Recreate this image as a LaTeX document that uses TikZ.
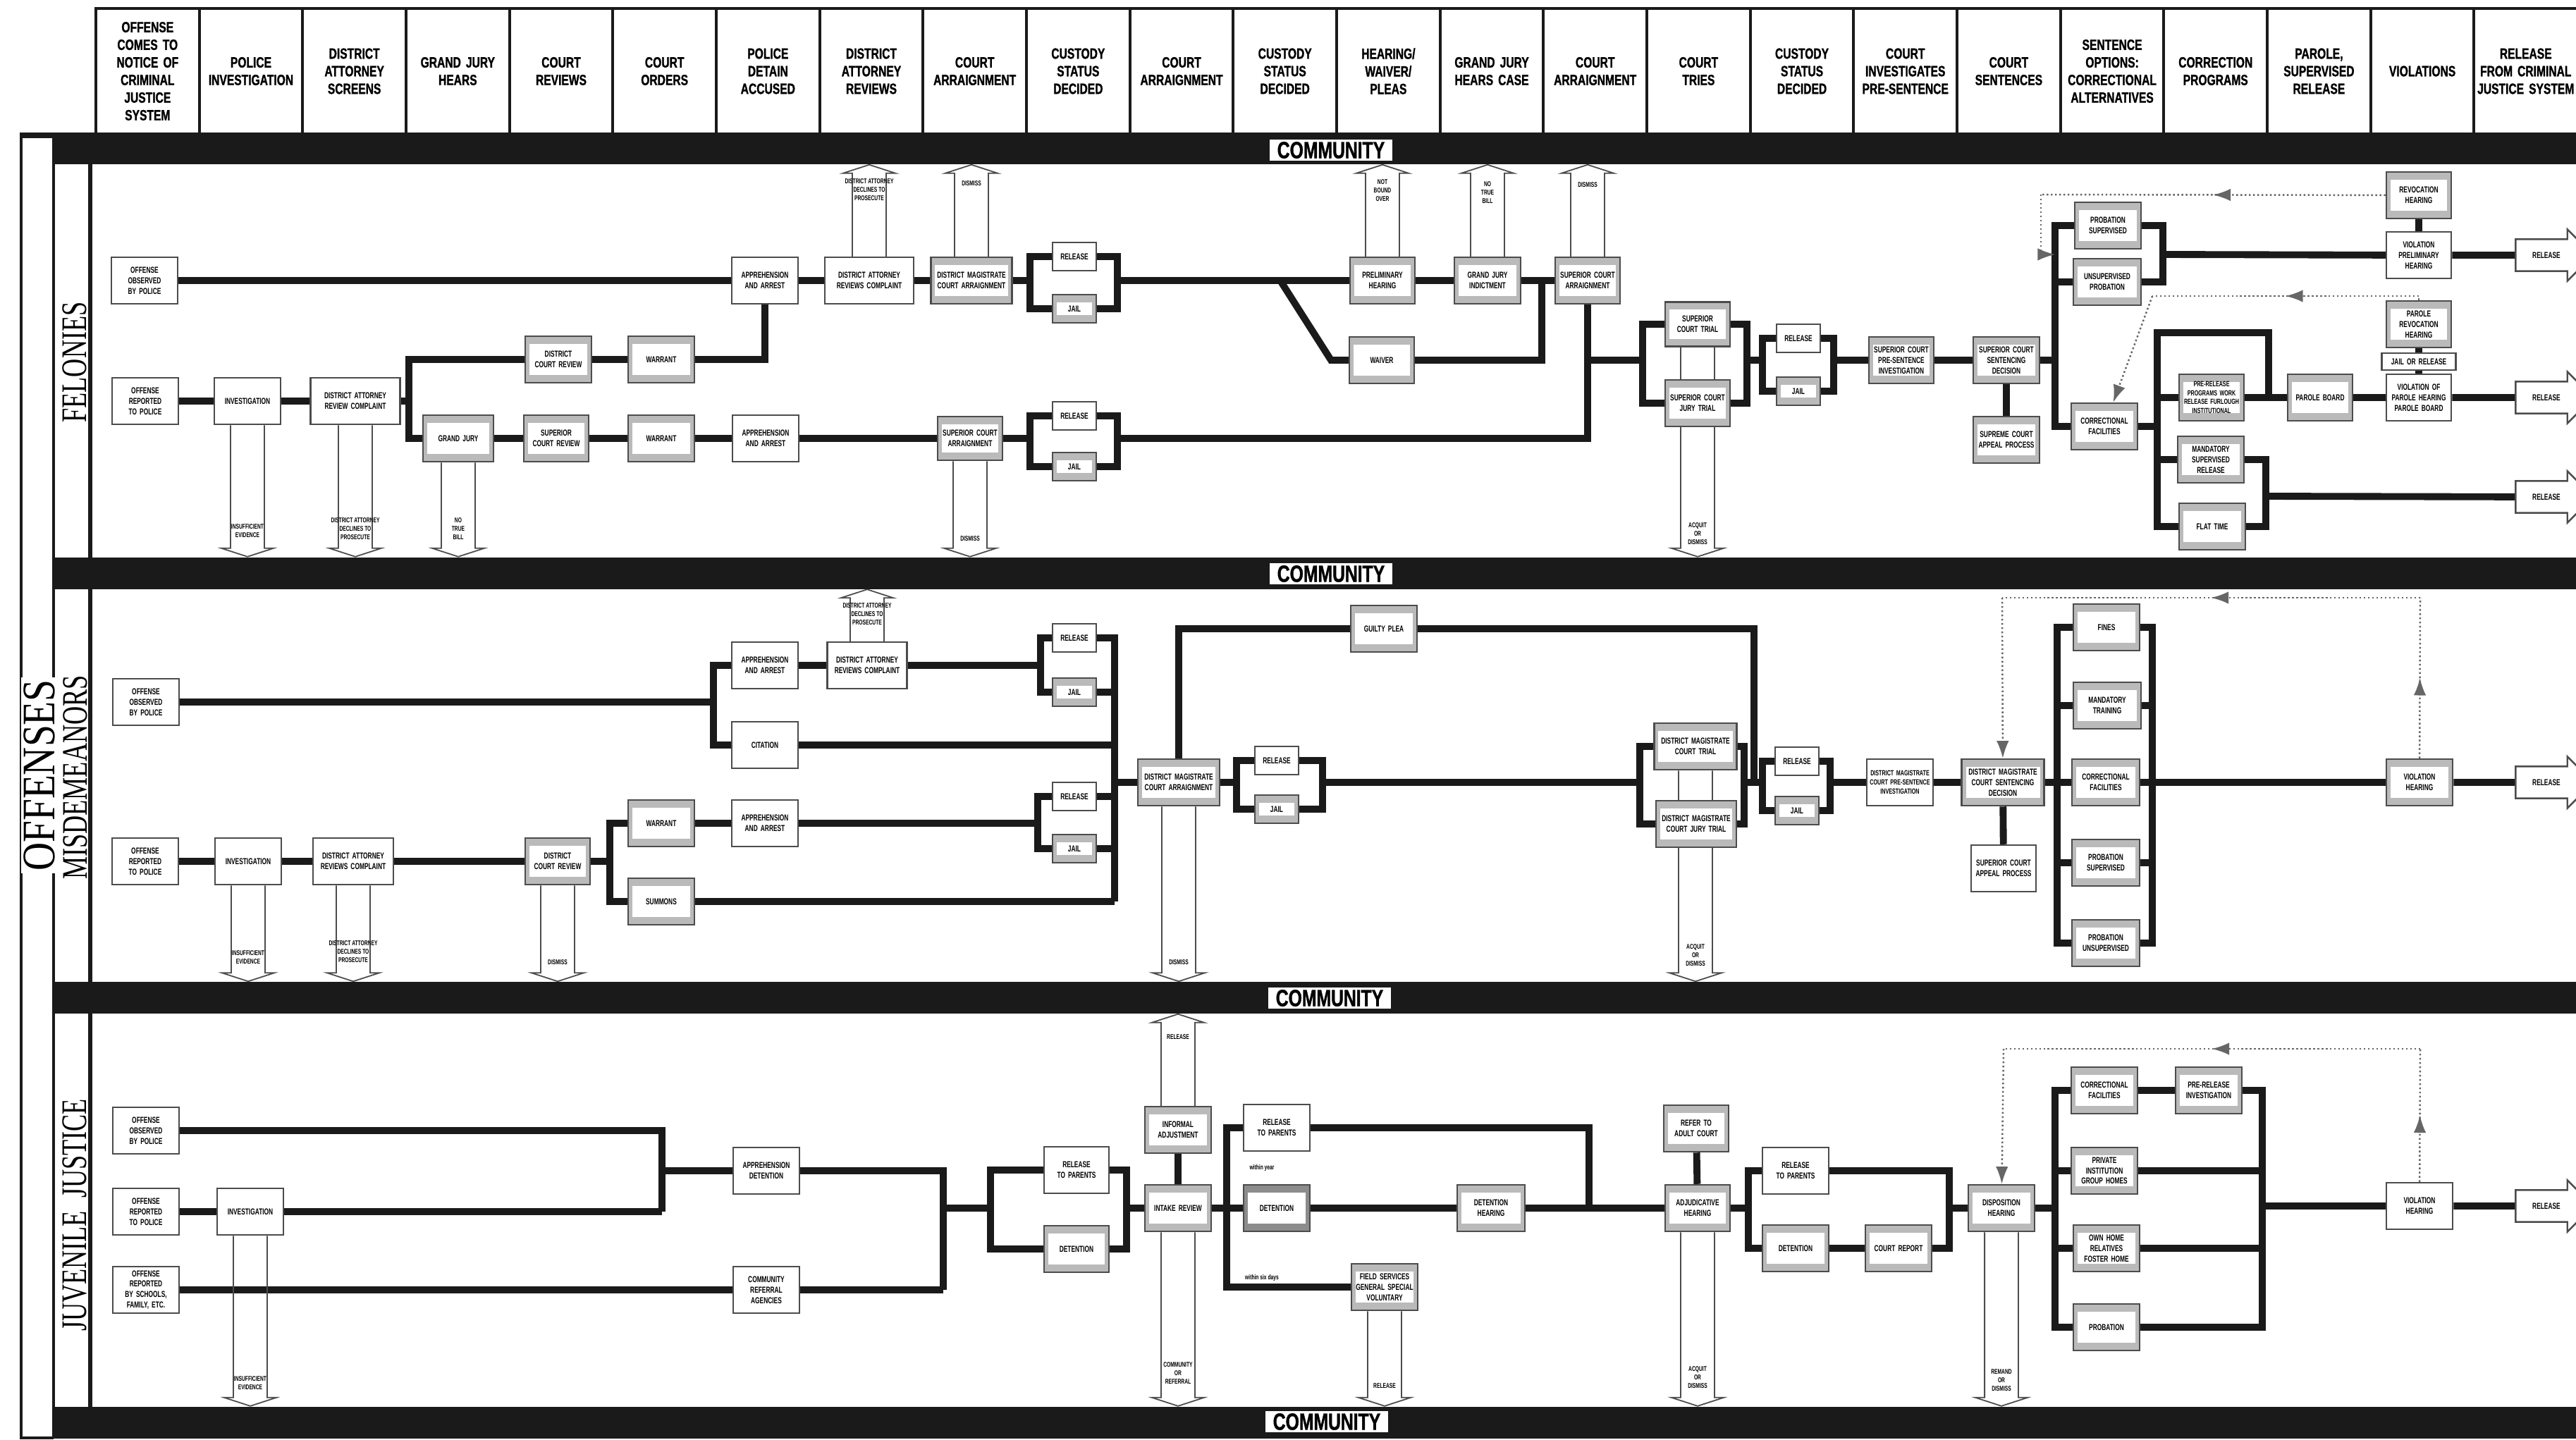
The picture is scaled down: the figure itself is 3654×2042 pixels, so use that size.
\documentclass[tikz,border=0pt]{standalone}
\usepackage{fontspec}
\newfontfamily\hdrfont{Liberation Sans}[UprightFont=* Bold, FakeStretch=0.74, FakeBold=1.2]
\newfontfamily\boxfont{Liberation Sans}[UprightFont=* Bold, FakeStretch=0.68]
\newfontfamily\secfont{Liberation Serif}[FakeStretch=0.71]
\newfontfamily\offfont{Liberation Serif}[FakeStretch=0.84]
\usepackage{tikz}
\usetikzlibrary{positioning, calc, shapes.arrows, arrows.meta, decorations.markings}
\definecolor{boxgray}{HTML}{BABABA}
\definecolor{ink}{HTML}{1A1A1A}
\pgfdeclarelayer{bg}
\pgfdeclarelayer{lines}
\pgfsetlayers{bg,lines,main}
\hyphenpenalty=10000
\exhyphenpenalty=10000

\begin{document}
\begin{tikzpicture}[x=0.01cm, y=-0.01cm,
  hdr/.style={draw=ink, line width=1.1pt, anchor=north west,
    minimum width=1.4667cm, minimum height=1.78cm, text width=1.38cm,
    align=center, inner sep=0pt, font=\hdrfont\fontsize{6}{7.1}\selectfont},
  box/.style={draw=black!70, line width=0.7pt, fill=white,
    minimum width=0.94cm, minimum height=0.66cm, text width=0.86cm,
    align=center, inner sep=0pt, font=\boxfont\fontsize{3.5}{4.2}\selectfont},
  shade/.style={box, fill=boxgray,
    path picture={\fill[white] ([xshift=0.06cm,yshift=-0.11cm]path picture bounding box.north west)
      rectangle ([xshift=-0.06cm,yshift=0.11cm]path picture bounding box.south east);}},
  rj/.style={minimum width=0.62cm, minimum height=0.40cm, text width=0.56cm},
  small/.style={font=\boxfont\fontsize{3}{3.6}\selectfont},
  flow/.style={draw=ink, line width=2.8pt},
  exitline/.style={draw=black!70, line width=0.5pt},
  exitup/.style={exitline, to path={let \p1=(\tikztostart), \p2=(\tikztotarget) in
    (\x1-6.8pt,\y1) -- (\x1-6.8pt,\y2-3.4pt) -- (\x1-10.5pt,\y2-3.4pt) -- (\x1,\y2)
    -- (\x1+10.5pt,\y2-3.4pt) -- (\x1+6.8pt,\y2-3.4pt) -- (\x1+6.8pt,\y1)}},
  exitdown/.style={exitline, to path={let \p1=(\tikztostart), \p2=(\tikztotarget) in
    (\x1-6.8pt,\y1) -- (\x1-6.8pt,\y2+3.4pt) -- (\x1-10.5pt,\y2+3.4pt) -- (\x1,\y2)
    -- (\x1+10.5pt,\y2+3.4pt) -- (\x1+6.8pt,\y2+3.4pt) -- (\x1+6.8pt,\y1)}},
  exitlbl/.style={align=center, inner sep=0pt, font=\boxfont\fontsize{2.8}{3.4}\selectfont},
  band/.style={fill=ink, minimum width=35.78cm, minimum height=0.45cm, inner sep=0pt},
  comm/.style={fill=white, inner xsep=3pt, inner ysep=1pt, font=\hdrfont\fontsize{9.5}{9.5}\selectfont},
  relarr/.style={single arrow, draw=black!70, line width=0.7pt, fill=white, anchor=west,
    minimum height=1.1cm, single arrow head extend=0.14cm, inner xsep=0.1cm, inner ysep=0.17cm,
    font=\boxfont\fontsize{3.5}{4.2}\selectfont},
  dots/.style={densely dotted, line width=0.7pt, draw=black!60},
  midarrow/.style={postaction={decorate}, decoration={markings,
    mark=at position 0.5 with {\arrow{Latex[length=7pt,width=5pt]}}}},
  seclbl/.style={rotate=90, inner sep=0pt, font=\secfont\fontsize{14.5}{14.5}\selectfont}]

\useasboundingbox (0,0) rectangle (3654,2042);
\begin{pgfonlayer}{bg}
  \fill[white] (0,0) rectangle (3654,2042);
\end{pgfonlayer}

% column headings
\foreach \t [count=\i from 0] in {
  {OFFENSE\\COMES TO\\NOTICE OF\\CRIMINAL\\JUSTICE\\SYSTEM}, {POLICE\\INVESTIGATION},
  {DISTRICT\\ATTORNEY\\SCREENS}, {GRAND JURY\\HEARS}, {COURT\\REVIEWS}, {COURT\\ORDERS},
  {POLICE\\DETAIN\\ACCUSED}, {DISTRICT\\ATTORNEY\\REVIEWS}, {COURT\\ARRAIGNMENT},
  {CUSTODY\\STATUS\\DECIDED}, {COURT\\ARRAIGNMENT}, {CUSTODY\\STATUS\\DECIDED},
  {HEARING/\\WAIVER/\\PLEAS}, {GRAND JURY\\HEARS CASE}, {COURT\\ARRAIGNMENT},
  {COURT\\TRIES}, {CUSTODY\\STATUS\\DECIDED}, {COURT\\INVESTIGATES\\PRE-SENTENCE},
  {COURT\\SENTENCES}, {SENTENCE\\OPTIONS:\\CORRECTIONAL\\ALTERNATIVES},
  {CORRECTION\\PROGRAMS}, {PAROLE,\\SUPERVISED\\RELEASE}, {VIOLATIONS},
  {RELEASE\\FROM CRIMINAL\\JUSTICE SYSTEM}}
  \node[hdr] (h\i) at ({134+146.67*\i},10) {\t};

% frame and community bands
\draw[ink, line width=1pt] (30,188) -- (30,2040) -- (76,2040);
\draw[ink, line width=2.5pt] (30,192) -- (76,192);
\draw[ink, line width=1pt] (76,188) -- (76,2040);
\draw[ink, line width=1.6pt] (128,233) -- (128,1996);
\node[band] (band1) at (1865,210.5) {};
\node[band] (band2) at (1865,813) {};
\node[band] (band3) at (1865,1415.5) {};
\node[band] (band4) at (1865,2018) {};
\node[comm] (c1) at (1888,213) {COMMUNITY};
\node[comm] (c2) at (1888,814) {COMMUNITY};
\node[comm] (c3) at (1886,1416) {COMMUNITY};
\node[comm] (c4) at (1882,2017) {COMMUNITY};

\node[rotate=90, inner sep=1pt, fill=white, font=\offfont\fontsize{18.8}{18.8}\selectfont] (loff) at (56,1100) {OFFENSES};
\node[seclbl] (lfel) at (106,514) {FELONIES};
\node[seclbl] (lmis) at (107,1103) {MISDEMEANORS};
\node[seclbl] (ljuv) at (106,1724) {JUVENILE\ \ JUSTICE};

% ---------------- felonies
\node[box] (fobs) at (205,398) {OFFENSE OBSERVED BY POLICE};
\node[box] (fapp1) at (1085,398) {APPREHENSION AND ARREST};
\node[box, minimum width=1.26cm, text width=1.16cm] (fdarc1) at (1233,398) {DISTRICT ATTORNEY REVIEWS COMPLAINT};
\node[shade, minimum width=1.15cm, text width=1.05cm] (fdma) at (1378,398) {DISTRICT MAGISTRATE COURT ARRAIGNMENT};
\node[box, rj] (frel1) at (1524,364) {RELEASE};
\node[shade, rj] (fjail1) at (1524,438) {JAIL};
\node[shade, minimum width=0.92cm] (fprel) at (1961,398) {PRELIMINARY HEARING};
\node[shade, minimum width=0.92cm] (fwaiv) at (1960,511) {WAIVER};
\node[shade] (fgji) at (2110,398) {GRAND JURY INDICTMENT};
\node[shade, minimum width=0.92cm] (fsca1) at (2252,398) {SUPERIOR COURT ARRAIGNMENT};
\node[shade, minimum width=0.92cm, minimum height=0.63cm] (ftri) at (2408,460) {SUPERIOR COURT TRIAL};
\node[shade, minimum width=0.92cm] (fjtri) at (2408,572) {SUPERIOR COURT JURY TRIAL};
\node[box, rj] (frel3) at (2551,480) {RELEASE};
\node[shade, rj] (fjail3) at (2551,555) {JAIL};
\node[shade, minimum width=0.92cm] (fpsi) at (2697,511) {SUPERIOR COURT PRE-SENTENCE INVESTIGATION};
\node[shade] (fsent) at (2846,511) {SUPERIOR COURT SENTENCING DECISION};
\node[shade] (fapl) at (2846,624) {SUPREME COURT APPEAL PROCESS};
\node[shade] (fprob) at (2990,320) {PROBATION SUPERVISED};
\node[shade, minimum width=0.96cm] (funpr) at (2989,400) {UNSUPERVISED PROBATION};
\node[shade] (fcorr) at (2985,605) {CORRECTIONAL FACILITIES};
\node[shade, minimum width=0.92cm] (frevh) at (3431,277) {REVOCATION HEARING};
\node[box, minimum width=0.92cm] (fvph) at (3431,362) {VIOLATION PRELIMINARY HEARING};
\node[shade, minimum width=0.92cm] (fprh) at (3431,460) {PAROLE REVOCATION HEARING};
\node[box, minimum width=1.05cm, minimum height=0.24cm, text width=1cm] (fjor) at (3431,513) {JAIL OR RELEASE};
\node[box, minimum width=0.92cm] (fvoph) at (3431,564) {VIOLATION OF PAROLE HEARING PAROLE BOARD};
\node[shade, small, minimum width=0.92cm] (fprp) at (3137,564) {PRE-RELEASE PROGRAMS WORK RELEASE FURLOUGH INSTITUTIONAL};
\node[shade, minimum width=0.92cm] (fpb) at (3291,564) {PAROLE BOARD};
\node[shade] (fmsr) at (3136,652) {MANDATORY SUPERVISED RELEASE};
\node[shade] (fflat) at (3138,747) {FLAT TIME};
\node[relarr] (frelA) at (3567,362) {RELEASE};
\node[relarr] (frelB) at (3567,564) {RELEASE};
\node[relarr] (frelC) at (3567,705) {RELEASE};
\node[box] (frep) at (206,569) {OFFENSE REPORTED TO POLICE};
\node[box] (finv) at (351,569) {INVESTIGATION};
\node[box, minimum width=1.27cm, text width=1.17cm] (fdarc2) at (504,569) {DISTRICT ATTORNEY REVIEW COMPLAINT};
\node[shade] (fdcr) at (792,510) {DISTRICT COURT REVIEW};
\node[shade] (fwar1) at (938,510) {WARRANT};
\node[shade, minimum width=1cm] (fgj) at (650,622) {GRAND JURY};
\node[shade, minimum width=0.92cm] (fscr) at (789,622) {SUPERIOR COURT REVIEW};
\node[shade] (fwar2) at (938,622) {WARRANT};
\node[box] (fapp2) at (1086,622) {APPREHENSION AND ARREST};
\node[shade, minimum width=0.92cm, minimum height=0.62cm] (fsca2) at (1376,622) {SUPERIOR COURT ARRAIGNMENT};
\node[box, rj] (frel2) at (1524,590) {RELEASE};
\node[shade, rj] (fjail2) at (1524,662) {JAIL};

\coordinate (fb1l) at (1461,398);  \coordinate (fb1r) at (1585,398);
\coordinate (fkd1) at (1816,398);  \coordinate (fkd2) at (1888,511);
\coordinate (fwj) at (2187,398);
\coordinate (fb2l) at (1461,622);  \coordinate (fb2r) at (1585,622);
\coordinate (ftl) at (2330,511);   \coordinate (ftr) at (2478,511);
\coordinate (fb3l) at (2500,511);  \coordinate (fb3r) at (2601,511);
\coordinate (fsv) at (2915,511);   \coordinate (fpr) at (3068,361);
\coordinate (fct) at (3060,472);   \coordinate (fctr) at (3218,472);
\coordinate (fpj) at (3218,564);   \coordinate (fmr) at (3214,704);
\coordinate (fv) at (580,569);
\coordinate (fd1) at (2895,276);   \coordinate (fd2) at (2895,361);
\coordinate (fd3) at (3431,420);   \coordinate (fd4) at (3053,420);

\node[exitlbl] (xf1) at (1233,269) {DISTRICT ATTORNEY\\DECLINES TO\\PROSECUTE};
\node[exitlbl] (xf2) at (1378,260) {DISMISS};
\node[exitlbl] (xf3) at (1961,270) {NOT\\BOUND\\OVER};
\node[exitlbl] (xf4) at (2110,273) {NO\\TRUE\\BILL};
\node[exitlbl] (xf5) at (2252,262) {DISMISS};
\node[exitlbl] (xf6) at (351,753) {INSUFFICIENT\\EVIDENCE};
\node[exitlbl] (xf7) at (504,750) {DISTRICT ATTORNEY\\DECLINES TO\\PROSECUTE};
\node[exitlbl] (xf8) at (650,750) {NO\\TRUE\\BILL};
\node[exitlbl] (xf9) at (1376,764) {DISMISS};
\node[exitlbl] (xf10) at (2408,757) {ACQUIT\\OR\\DISMISS};

% ---------------- misdemeanors
\node[box] (mobs) at (207,996) {OFFENSE OBSERVED BY POLICE};
\node[box] (mapp1) at (1085,944) {APPREHENSION AND ARREST};
\node[box, minimum width=1.13cm, text width=1.04cm] (mdarc1) at (1230,944) {DISTRICT ATTORNEY REVIEWS COMPLAINT};
\node[box] (mcit) at (1085,1057) {CITATION};
\node[box, rj] (mrel1) at (1524,905) {RELEASE};
\node[shade, rj] (mjail1) at (1524,982) {JAIL};
\node[box, rj] (mrel2) at (1524,1130) {RELEASE};
\node[shade, rj] (mjail2) at (1524,1204) {JAIL};
\node[shade, minimum width=1.16cm, text width=1.06cm] (mdma) at (1672,1110) {DISTRICT MAGISTRATE COURT ARRAIGNMENT};
\node[shade] (mgp) at (1963,892) {GUILTY PLEA};
\node[box, rj] (mrel3) at (1811,1079) {RELEASE};
\node[shade, rj] (mjail3) at (1811,1148) {JAIL};
\node[shade, minimum width=1.17cm, text width=1.06cm] (mtri) at (2405,1059) {DISTRICT MAGISTRATE COURT TRIAL};
\node[shade, minimum width=1.14cm, text width=1.04cm] (mjtri) at (2406,1169) {DISTRICT MAGISTRATE COURT JURY TRIAL};
\node[box, rj] (mrel4) at (2549,1080) {RELEASE};
\node[shade, rj] (mjail4) at (2549,1150) {JAIL};
\node[box, small] (mpsi) at (2695,1110) {DISTRICT MAGISTRATE COURT PRE-SENTENCE INVESTIGATION};
\node[shade, minimum width=1.17cm, text width=1.06cm] (msent) at (2841,1110) {DISTRICT MAGISTRATE COURT SENTENCING DECISION};
\node[box, minimum width=0.92cm] (mapl) at (2842,1232) {SUPERIOR COURT APPEAL PROCESS};
\node[shade] (mfine) at (2988,890) {FINES};
\node[shade, minimum width=0.96cm] (mmtr) at (2989,1001) {MANDATORY TRAINING};
\node[shade, minimum width=0.96cm] (mcorr) at (2987,1110) {CORRECTIONAL FACILITIES};
\node[shade, minimum width=0.96cm] (mprob) at (2987,1224) {PROBATION SUPERVISED};
\node[shade, minimum width=0.96cm] (munpr) at (2987,1338) {PROBATION UNSUPERVISED};
\node[shade] (mvh) at (3432,1110) {VIOLATION HEARING};
\node[relarr] (mrelA) at (3567,1110) {RELEASE};
\node[box] (mrep) at (206,1222) {OFFENSE REPORTED TO POLICE};
\node[box] (minv) at (352,1222) {INVESTIGATION};
\node[box, minimum width=1.14cm, text width=1.05cm] (mdarc2) at (501,1222) {DISTRICT ATTORNEY REVIEWS COMPLAINT};
\node[shade, minimum width=0.92cm] (mdcr) at (791,1222) {DISTRICT COURT REVIEW};
\node[shade] (mwar) at (938,1168) {WARRANT};
\node[box] (mapp2) at (1085,1168) {APPREHENSION AND ARREST};
\node[shade] (msum) at (938,1279) {SUMMONS};

\coordinate (mb0) at (1012,996);   \coordinate (mb1l) at (1476,944);
\coordinate (mbig) at (1581,1279); \coordinate (mb2l) at (1472,1168);
\coordinate (mb5) at (865,1222);   \coordinate (mgj) at (2488,1110);
\coordinate (mb3l) at (1754,1110); \coordinate (mb3r) at (1876,1110);
\coordinate (mtl) at (2326,1110);  \coordinate (mtr) at (2474,1110);
\coordinate (mb4l) at (2500,1110); \coordinate (mb4r) at (2596,1110);
\coordinate (msv) at (2918,1110);  \coordinate (mrv) at (3053,1110);
\coordinate (md1) at (2840,848);   \coordinate (md2) at (3433,848);

\node[exitlbl] (xm1) at (1230,871) {DISTRICT ATTORNEY\\DECLINES TO\\PROSECUTE};
\node[exitlbl] (xm2) at (352,1358) {INSUFFICIENT\\EVIDENCE};
\node[exitlbl] (xm3) at (501,1350) {DISTRICT ATTORNEY\\DECLINES TO\\PROSECUTE};
\node[exitlbl] (xm4) at (791,1365) {DISMISS};
\node[exitlbl] (xm5) at (1672,1365) {DISMISS};
\node[exitlbl] (xm6) at (2405,1355) {ACQUIT\\OR\\DISMISS};

% ---------------- juvenile justice
\node[box] (jobs) at (207,1604) {OFFENSE OBSERVED BY POLICE};
\node[box] (jrep) at (207,1719) {OFFENSE REPORTED TO POLICE};
\node[box] (jinv) at (355,1719) {INVESTIGATION};
\node[box] (jsch) at (207,1830) {OFFENSE REPORTED BY SCHOOLS, FAMILY, ETC.};
\node[box] (japp) at (1087,1661) {APPREHENSION DETENTION};
\node[box] (jcom) at (1087,1830) {COMMUNITY REFERRAL AGENCIES};
\node[box, minimum width=0.92cm] (jrp1) at (1527,1660) {RELEASE TO PARENTS};
\node[shade, minimum width=0.92cm] (jdet1) at (1527,1772) {DETENTION};
\node[shade] (jint) at (1671,1714) {INTAKE REVIEW};
\node[shade] (jinf) at (1671,1603) {INFORMAL ADJUSTMENT};
\node[box] (jrp2) at (1811,1600) {RELEASE TO PARENTS};
\node[shade, fill=black!45] (jdet2) at (1811,1714) {DETENTION};
\node[shade] (jfld) at (1964,1826) {FIELD SERVICES GENERAL SPECIAL VOLUNTARY};
\node[shade, minimum width=0.96cm] (jdh) at (2115,1714) {DETENTION HEARING};
\node[shade, minimum width=0.92cm] (jadj) at (2408,1714) {ADJUDICATIVE HEARING};
\node[shade, minimum width=0.92cm] (jref) at (2406,1601) {REFER TO ADULT COURT};
\node[box] (jrp3) at (2547,1661) {RELEASE TO PARENTS};
\node[shade] (jdet3) at (2547,1771) {DETENTION};
\node[shade] (jcrt) at (2693,1771) {COURT REPORT};
\node[shade] (jdisp) at (2839,1714) {DISPOSITION HEARING};
\node[shade] (jcorr) at (2985,1547) {CORRECTIONAL FACILITIES};
\node[shade] (jpri) at (3133,1547) {PRE-RELEASE INVESTIGATION};
\node[shade] (jpin) at (2985,1661) {PRIVATE INSTITUTION GROUP HOMES};
\node[shade] (jown) at (2988,1771) {OWN HOME RELATIVES FOSTER HOME};
\node[shade] (jprob) at (2988,1883) {PROBATION};
\node[box] (jvh) at (3432,1711) {VIOLATION HEARING};
\node[relarr] (jrelA) at (3567,1711) {RELEASE};
\node[exitlbl] (jw1) at (1790,1657) {within year};
\node[exitlbl] (jw2) at (1790,1813) {within six days};

\coordinate (jm) at (939,1719);    \coordinate (jv) at (1338,1830);
\coordinate (jmid) at (1338,1714); \coordinate (jb1l) at (1405,1714);
\coordinate (jb1r) at (1598,1714); \coordinate (jv3) at (1740,1714);
\coordinate (jv3b) at (1740,1826); \coordinate (jj) at (2254,1714);
\coordinate (jb2l) at (2480,1714); \coordinate (jb2r) at (2765,1714);
\coordinate (jv4) at (2915,1714);  \coordinate (jr) at (3209,1711);
\coordinate (jd1) at (2842,1488);  \coordinate (jd2) at (3433,1488);

\node[exitlbl] (xj1) at (355,1962) {INSUFFICIENT\\EVIDENCE};
\node[exitlbl] (xj2) at (1671,1471) {RELEASE};
\node[exitlbl] (xj3) at (1671,1948) {COMMUNITY\\OR\\REFERRAL};
\node[exitlbl] (xj4) at (1964,1966) {RELEASE};
\node[exitlbl] (xj5) at (2408,1954) {ACQUIT\\OR\\DISMISS};
\node[exitlbl] (xj6) at (2839,1958) {REMAND\\OR\\DISMISS};

\begin{pgfonlayer}{lines}
  % felonies, upper route
  \draw[flow] (fobs) -- (fapp1);
  \draw[flow] (fapp1) -- (fdarc1);
  \draw[flow] (fdarc1) -- (fdma);
  \draw[flow] (fdma) -- (fb1l);
  \draw[flow] (frel1) -| (fb1l) |- (fjail1);
  \draw[flow] (frel1) -| (fb1r) |- (fjail1);
  \draw[flow] (fb1r) -- (fprel);
  \draw[flow] (fkd1) -- (fkd2) -- (fwaiv);
  \draw[flow] (fprel) -- (fgji);
  \draw[flow] (fgji) -- (fsca1);
  \draw[flow] (fwaiv) -| (fwj);
  \draw[flow] (fb2r) -| (fsca1);
  \draw[flow] (fsca1 |- ftl) -- (ftl);
  \draw[flow] (ftri) -| (ftl) |- (fjtri);
  \draw[flow] (ftri) -| (ftr) |- (fjtri);
  \draw[flow] (ftr) -- (fb3l);
  \draw[flow] (frel3) -| (fb3l) |- (fjail3);
  \draw[flow] (frel3) -| (fb3r) |- (fjail3);
  \draw[flow] (fb3r) -- (fpsi);
  \draw[flow] (fpsi) -- (fsent);
  \draw[flow] (fsent) -- (fapl);
  \draw[flow] (fsent) -- (fsv);
  \draw[flow] (fprob) -| (fsv) |- (fcorr);
  \draw[flow] (funpr) -- (funpr -| fsv);
  \draw[flow] (fprob) -| (fpr) |- (funpr);
  \draw[flow] (fpr) -- (fvph);
  \draw[flow] (fvph) -- (frevh);
  \draw[flow] (fvph) -- (frelA);
  \draw[flow] (fcorr) -- (fcorr -| fct);
  \draw[flow] (fflat) -| (fct) -- (fctr) -- (fpj);
  \draw[flow] (fprp) -- (fprp -| fct);
  \draw[flow] (fmsr) -- (fmsr -| fct);
  \draw[flow] (fprp) -- (fpb);
  \draw[flow] (fpb) -- (fvoph);
  \draw[flow] (fvoph) -- (frelB);
  \draw[flow] (fprh) -- (fjor);
  \draw[flow] (fjor) -- (fvoph);
  \draw[flow] (fmsr) -| (fmr) |- (fflat);
  \draw[flow] (fmr) -- (frelC);
  % felonies, lower route
  \draw[flow] (frep) -- (finv);
  \draw[flow] (finv) -- (fdarc2);
  \draw[flow] (fdarc2) -- (fv);
  \draw[flow] (fdcr) -| (fv) |- (fgj);
  \draw[flow] (fdcr) -- (fwar1);
  \draw[flow] (fwar1) -| (fapp1);
  \draw[flow] (fgj) -- (fscr);
  \draw[flow] (fscr) -- (fwar2);
  \draw[flow] (fwar2) -- (fapp2);
  \draw[flow] (fapp2) -- (fsca2);
  \draw[flow] (fsca2) -- (fb2l);
  \draw[flow] (frel2) -| (fb2l) |- (fjail2);
  \draw[flow] (frel2) -| (fb2r) |- (fjail2);
  % felonies, exits and returns
  \draw[exitup] (fdarc1.north) to (fdarc1.north |- band1.south);
  \draw[exitup] (fdma.north) to (fdma.north |- band1.south);
  \draw[exitup] (fprel.north) to (fprel.north |- band1.south);
  \draw[exitup] (fgji.north) to (fgji.north |- band1.south);
  \draw[exitup] (fsca1.north) to (fsca1.north |- band1.south);
  \draw[exitdown] (finv.south) to (finv.south |- band2.north);
  \draw[exitdown] (fdarc2.south) to (fdarc2.south |- band2.north);
  \draw[exitdown] (fgj.south) to (fgj.south |- band2.north);
  \draw[exitdown] (fsca2.south) to (fsca2.south |- band2.north);
  \draw[exitdown] (ftri.south) to (ftri.south |- band2.north);
  \draw[dots, midarrow] (frevh) -- (fd1);
  \draw[dots] (fd1) -- (fd2);
  \draw[dots, -{Latex[length=7pt,width=5pt]}] (fd2) -- (fd2 -| fsv);
  \draw[dots] (fprh) -- (fd3);
  \draw[dots, midarrow] (fd3) -- (fd4);
  \draw[dots, -{Latex[length=7pt,width=5pt]}] (fd4) -- (fcorr);

  % misdemeanors
  \draw[flow] (mobs) -- (mb0);
  \draw[flow] (mapp1) -| (mb0) |- (mcit);
  \draw[flow] (mapp1) -- (mdarc1);
  \draw[flow] (mdarc1) -- (mb1l);
  \draw[flow] (mrel1) -| (mb1l) |- (mjail1);
  \draw[flow] (mrel1) -| (mbig);
  \draw[flow] (mjail1) -- (mjail1 -| mbig);
  \draw[flow] (mcit) -- (mcit -| mbig);
  \draw[flow] (mrel2) -- (mrel2 -| mbig);
  \draw[flow] (mjail2) -- (mjail2 -| mbig);
  \draw[flow] (msum) -- (mbig);
  \draw[flow] (mrep) -- (minv);
  \draw[flow] (minv) -- (mdarc2);
  \draw[flow] (mdarc2) -- (mdcr);
  \draw[flow] (mdcr) -- (mb5);
  \draw[flow] (mwar) -| (mb5) |- (msum);
  \draw[flow] (mwar) -- (mapp2);
  \draw[flow] (mapp2) -- (mb2l);
  \draw[flow] (mrel2) -| (mb2l) |- (mjail2);
  \draw[flow] (mdma) -- (mdma -| mbig);
  \draw[flow] (mdma) |- (mgp);
  \draw[flow] (mgp) -| (mgj);
  \draw[flow] (mdma) -- (mb3l);
  \draw[flow] (mrel3) -| (mb3l) |- (mjail3);
  \draw[flow] (mrel3) -| (mb3r) |- (mjail3);
  \draw[flow] (mb3r) -- (mtl);
  \draw[flow] (mtri) -| (mtl) |- (mjtri);
  \draw[flow] (mtri) -| (mtr) |- (mjtri);
  \draw[flow] (mtr) -- (mb4l);
  \draw[flow] (mrel4) -| (mb4l) |- (mjail4);
  \draw[flow] (mrel4) -| (mb4r) |- (mjail4);
  \draw[flow] (mb4r) -- (mpsi);
  \draw[flow] (mpsi) -- (msent);
  \draw[flow] (msent) -- (mapl);
  \draw[flow] (msent) -- (msv);
  \draw[flow] (mfine) -| (msv) |- (munpr);
  \draw[flow] (mmtr) -- (mmtr -| msv);
  \draw[flow] (mcorr) -- (mcorr -| msv);
  \draw[flow] (mprob) -- (mprob -| msv);
  \draw[flow] (mfine) -| (mrv) |- (munpr);
  \draw[flow] (mmtr) -- (mmtr -| mrv);
  \draw[flow] (mprob) -- (mprob -| mrv);
  \draw[flow] (mcorr) -- (mvh);
  \draw[flow] (mvh) -- (mrelA);
  \draw[exitup] (mdarc1.north) to (mdarc1.north |- band2.south);
  \draw[exitdown] (minv.south) to (minv.south |- band3.north);
  \draw[exitdown] (mdarc2.south) to (mdarc2.south |- band3.north);
  \draw[exitdown] (mdcr.south) to (mdcr.south |- band3.north);
  \draw[exitdown] (mdma.south) to (mdma.south |- band3.north);
  \draw[exitdown] (mtri.south) to (mtri.south |- band3.north);
  \draw[dots, midarrow] (mvh) -- (md2);
  \draw[dots, midarrow] (md2) -- (md1);
  \draw[dots, -{Latex[length=7pt,width=5pt]}] (md1) -- (msent);

  % juvenile justice
  \draw[flow] (jobs) -| (jm);
  \draw[flow] (jrep) -- (jinv);
  \draw[flow] (jinv) -- (jm);
  \draw[flow] (japp) -- (japp -| jm);
  \draw[flow] (jsch) -- (jcom);
  \draw[flow] (japp) -| (jv);
  \draw[flow] (jcom) -- (jv);
  \draw[flow] (jmid) -- (jb1l);
  \draw[flow] (jrp1) -| (jb1l) |- (jdet1);
  \draw[flow] (jrp1) -| (jb1r) |- (jdet1);
  \draw[flow] (jb1r) -- (jint);
  \draw[flow] (jint) -- (jinf);
  \draw[flow] (jint) -- (jv3);
  \draw[flow] (jrp2) -| (jv3b) -- (jfld);
  \draw[flow] (jv3) -- (jdet2);
  \draw[flow] (jdet2) -- (jdh);
  \draw[flow] (jdh) -- (jj) -- (jadj);
  \draw[flow] (jrp2) -| (jj);
  \draw[flow] (jadj) -- (jref);
  \draw[flow] (jadj) -- (jb2l);
  \draw[flow] (jrp3) -| (jb2l) |- (jdet3);
  \draw[flow] (jdet3) -- (jcrt);
  \draw[flow] (jrp3) -| (jb2r) |- (jcrt);
  \draw[flow] (jb2r) -- (jdisp);
  \draw[flow] (jdisp) -- (jv4);
  \draw[flow] (jcorr) -| (jv4) |- (jprob);
  \draw[flow] (jpin) -- (jpin -| jv4);
  \draw[flow] (jown) -- (jown -| jv4);
  \draw[flow] (jcorr) -- (jpri);
  \draw[flow] (jpri) -| (jr) |- (jprob);
  \draw[flow] (jpin) -- (jpin -| jr);
  \draw[flow] (jown) -- (jown -| jr);
  \draw[flow] (jr) -- (jvh);
  \draw[flow] (jvh) -- (jrelA);
  \draw[exitdown] (jinv.south) to (jinv.south |- band4.north);
  \draw[exitup] (jinf.north) to (jinf.north |- band3.south);
  \draw[exitdown] (jint.south) to (jint.south |- band4.north);
  \draw[exitdown] (jfld.south) to (jfld.south |- band4.north);
  \draw[exitdown] (jadj.south) to (jadj.south |- band4.north);
  \draw[exitdown] (jdisp.south) to (jdisp.south |- band4.north);
  \draw[dots, midarrow] (jvh) -- (jd2);
  \draw[dots, midarrow] (jd2) -- (jd1);
  \draw[dots, -{Latex[length=7pt,width=5pt]}] (jd1) -- (jdisp);
\end{pgfonlayer}
\end{tikzpicture}
\end{document}
